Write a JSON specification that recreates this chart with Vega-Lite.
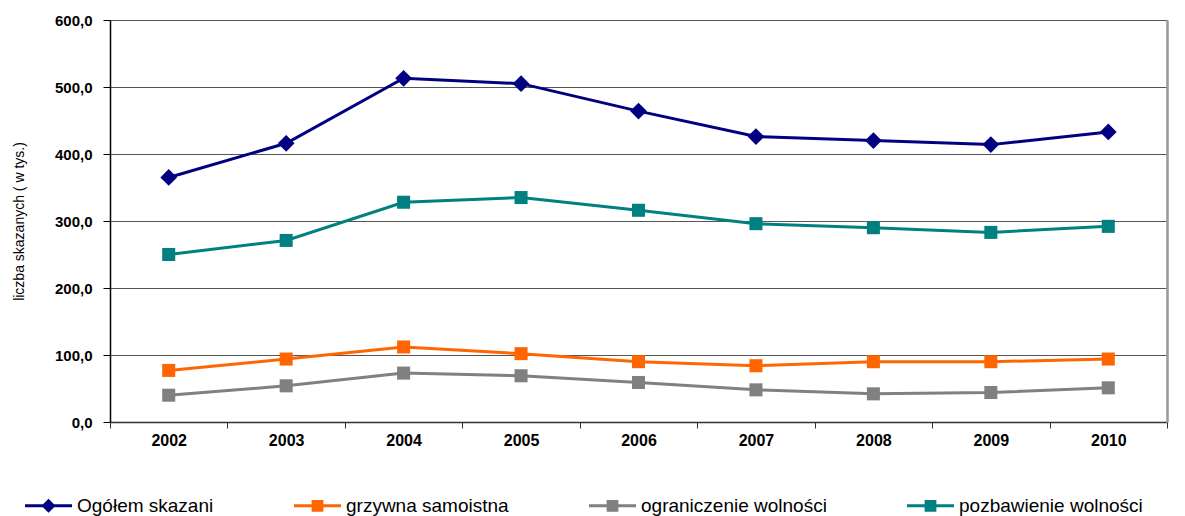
{
  "$schema": "https://vega.github.io/schema/vega-lite/v6.json",
  "width": 1057,
  "height": 402,
  "autosize": {"type": "none"},
  "padding": {"left": 110, "top": 20, "right": 18, "bottom": 94},
  "background": "white",
  "config": {
    "view": {"stroke": null},
    "font": "Liberation Sans",
    "legend": {
      "orient": "none",
      "legendX": -85,
      "legendY": 462,
      "direction": "horizontal",
      "columns": 4,
      "columnPadding": 80,
      "padding": 0,
      "symbolSize": 2209,
      "symbolStrokeWidth": 0,
      "symbolOpacity": 1,
      "labelFont": "Liberation Sans",
      "labelFontSize": 19,
      "labelColor": "black",
      "labelOffset": 5,
      "labelLimit": 400
    }
  },
  "data": {
    "values": [
      {"year": "2002", "series": "Ogółem skazani", "value": 365},
      {"year": "2003", "series": "Ogółem skazani", "value": 416},
      {"year": "2004", "series": "Ogółem skazani", "value": 513},
      {"year": "2005", "series": "Ogółem skazani", "value": 505},
      {"year": "2006", "series": "Ogółem skazani", "value": 464},
      {"year": "2007", "series": "Ogółem skazani", "value": 426},
      {"year": "2008", "series": "Ogółem skazani", "value": 420},
      {"year": "2009", "series": "Ogółem skazani", "value": 414},
      {"year": "2010", "series": "Ogółem skazani", "value": 433},
      {"year": "2002", "series": "grzywna samoistna", "value": 77},
      {"year": "2003", "series": "grzywna samoistna", "value": 94},
      {"year": "2004", "series": "grzywna samoistna", "value": 112},
      {"year": "2005", "series": "grzywna samoistna", "value": 102},
      {"year": "2006", "series": "grzywna samoistna", "value": 90},
      {"year": "2007", "series": "grzywna samoistna", "value": 84},
      {"year": "2008", "series": "grzywna samoistna", "value": 90},
      {"year": "2009", "series": "grzywna samoistna", "value": 90},
      {"year": "2010", "series": "grzywna samoistna", "value": 94},
      {"year": "2002", "series": "ograniczenie wolności", "value": 40},
      {"year": "2003", "series": "ograniczenie wolności", "value": 54},
      {"year": "2004", "series": "ograniczenie wolności", "value": 73},
      {"year": "2005", "series": "ograniczenie wolności", "value": 69},
      {"year": "2006", "series": "ograniczenie wolności", "value": 59},
      {"year": "2007", "series": "ograniczenie wolności", "value": 48},
      {"year": "2008", "series": "ograniczenie wolności", "value": 42},
      {"year": "2009", "series": "ograniczenie wolności", "value": 44},
      {"year": "2010", "series": "ograniczenie wolności", "value": 51},
      {"year": "2002", "series": "pozbawienie wolności", "value": 250},
      {"year": "2003", "series": "pozbawienie wolności", "value": 271},
      {"year": "2004", "series": "pozbawienie wolności", "value": 328},
      {"year": "2005", "series": "pozbawienie wolności", "value": 335},
      {"year": "2006", "series": "pozbawienie wolności", "value": 316},
      {"year": "2007", "series": "pozbawienie wolności", "value": 296},
      {"year": "2008", "series": "pozbawienie wolności", "value": 290},
      {"year": "2009", "series": "pozbawienie wolności", "value": 283},
      {"year": "2010", "series": "pozbawienie wolności", "value": 292}
    ]
  },
  "layer": [
    {
      "mark": {"type": "line", "strokeWidth": 3},
      "encoding": {
        "x": {
          "field": "year", "type": "ordinal",
          "scale": {"type": "band", "paddingInner": 0, "paddingOuter": 0},
          "axis": {
            "title": null,
            "labelAngle": 0,
            "labelFont": "Liberation Sans",
            "labelFontSize": 16,
            "labelFontWeight": "bold",
            "labelColor": "black",
            "labelPadding": 4,
            "tickBand": "extent",
            "tickSize": 6,
            "tickColor": "#333",
            "domainColor": "#333",
            "domainWidth": 1.5
          }
        },
        "y": {
          "field": "value", "type": "quantitative",
          "scale": {"domain": [0, 600]},
          "axis": {
            "values": [0, 100, 200, 300, 400, 500, 600],
            "labelExpr": "replace(format(datum.value, '.1f'), '.', ',')",
            "labelFont": "Liberation Sans",
            "labelFontSize": 15,
            "labelFontWeight": "bold",
            "labelColor": "black",
            "labelPadding": 11,
            "tickSize": 7,
            "tickColor": "black",
            "domainColor": "black",
            "domainWidth": 1.5,
            "gridColor": "#555",
            "gridWidth": 1,
            "title": "liczba skazanych ( w tys.)",
            "titleFont": "Liberation Sans",
            "titleFontSize": 14,
            "titleFontWeight": "normal",
            "titleColor": "black",
            "titlePadding": 28
          }
        },
        "color": {
          "field": "series", "type": "nominal",
          "scale": {
            "domain": ["Ogółem skazani", "grzywna samoistna", "ograniczenie wolności", "pozbawienie wolności"],
            "range": ["#000080", "#FF6600", "#808080", "#008080"]
          },
          "legend": null
        }
      }
    },
    {
      "mark": {"type": "point", "filled": true, "opacity": 1},
      "encoding": {
        "x": {"field": "year", "type": "ordinal", "scale": {"type": "band", "paddingInner": 0, "paddingOuter": 0}},
        "y": {"field": "value", "type": "quantitative", "axis": null},
        "color": {
          "field": "series", "type": "nominal",
          "scale": {
            "domain": ["Ogółem skazani", "grzywna samoistna", "ograniczenie wolności", "pozbawienie wolności"],
            "range": ["#000080", "#FF6600", "#808080", "#008080"]
          },
          "legend": null
        },
        "shape": {
          "condition": {"test": "datum.series === 'Ogółem skazani'", "value": "diamond"},
          "value": "square"
        },
        "size": {
          "condition": {"test": "datum.series === 'Ogółem skazani'", "value": 280},
          "value": 170
        }
      }
    },
    {
      "transform": [{"filter": "datum.value < 0"}],
      "mark": {"type": "point", "filled": true},
      "encoding": {
        "x": {"field": "year", "type": "ordinal", "scale": {"type": "band", "paddingInner": 0, "paddingOuter": 0}},
        "y": {
          "field": "value", "type": "quantitative",
          "axis": {"orient": "right", "labels": false, "ticks": false, "grid": false, "title": null, "domainColor": "#999", "domainWidth": 2.5}
        },
        "color": {
          "field": "series", "type": "nominal",
          "scale": {
            "domain": ["Ogółem skazani", "grzywna samoistna", "ograniczenie wolności", "pozbawienie wolności"],
            "range": ["#000080", "#FF6600", "#808080", "#008080"]
          },
          "legend": {
            "title": null,
            "encode": {
              "symbols": {
                "update": {
                  "shape": {"signal": "datum.value === 'Ogółem skazani' ? 'M-1,-0.06H1V0.06H-1Z M0,-0.3L0.3,0L0,0.3L-0.3,0Z' : 'M-1,-0.06H1V0.06H-1Z M-0.25,-0.25H0.25V0.25H-0.25Z'"},
                  "opacity": {"value": 1},
                  "strokeWidth": {"value": 0}
                }
              }
            }
          }
        }
      }
    }
  ],
  "resolve": {"axis": {"y": "independent"}, "scale": {"color": "independent"}}
}
